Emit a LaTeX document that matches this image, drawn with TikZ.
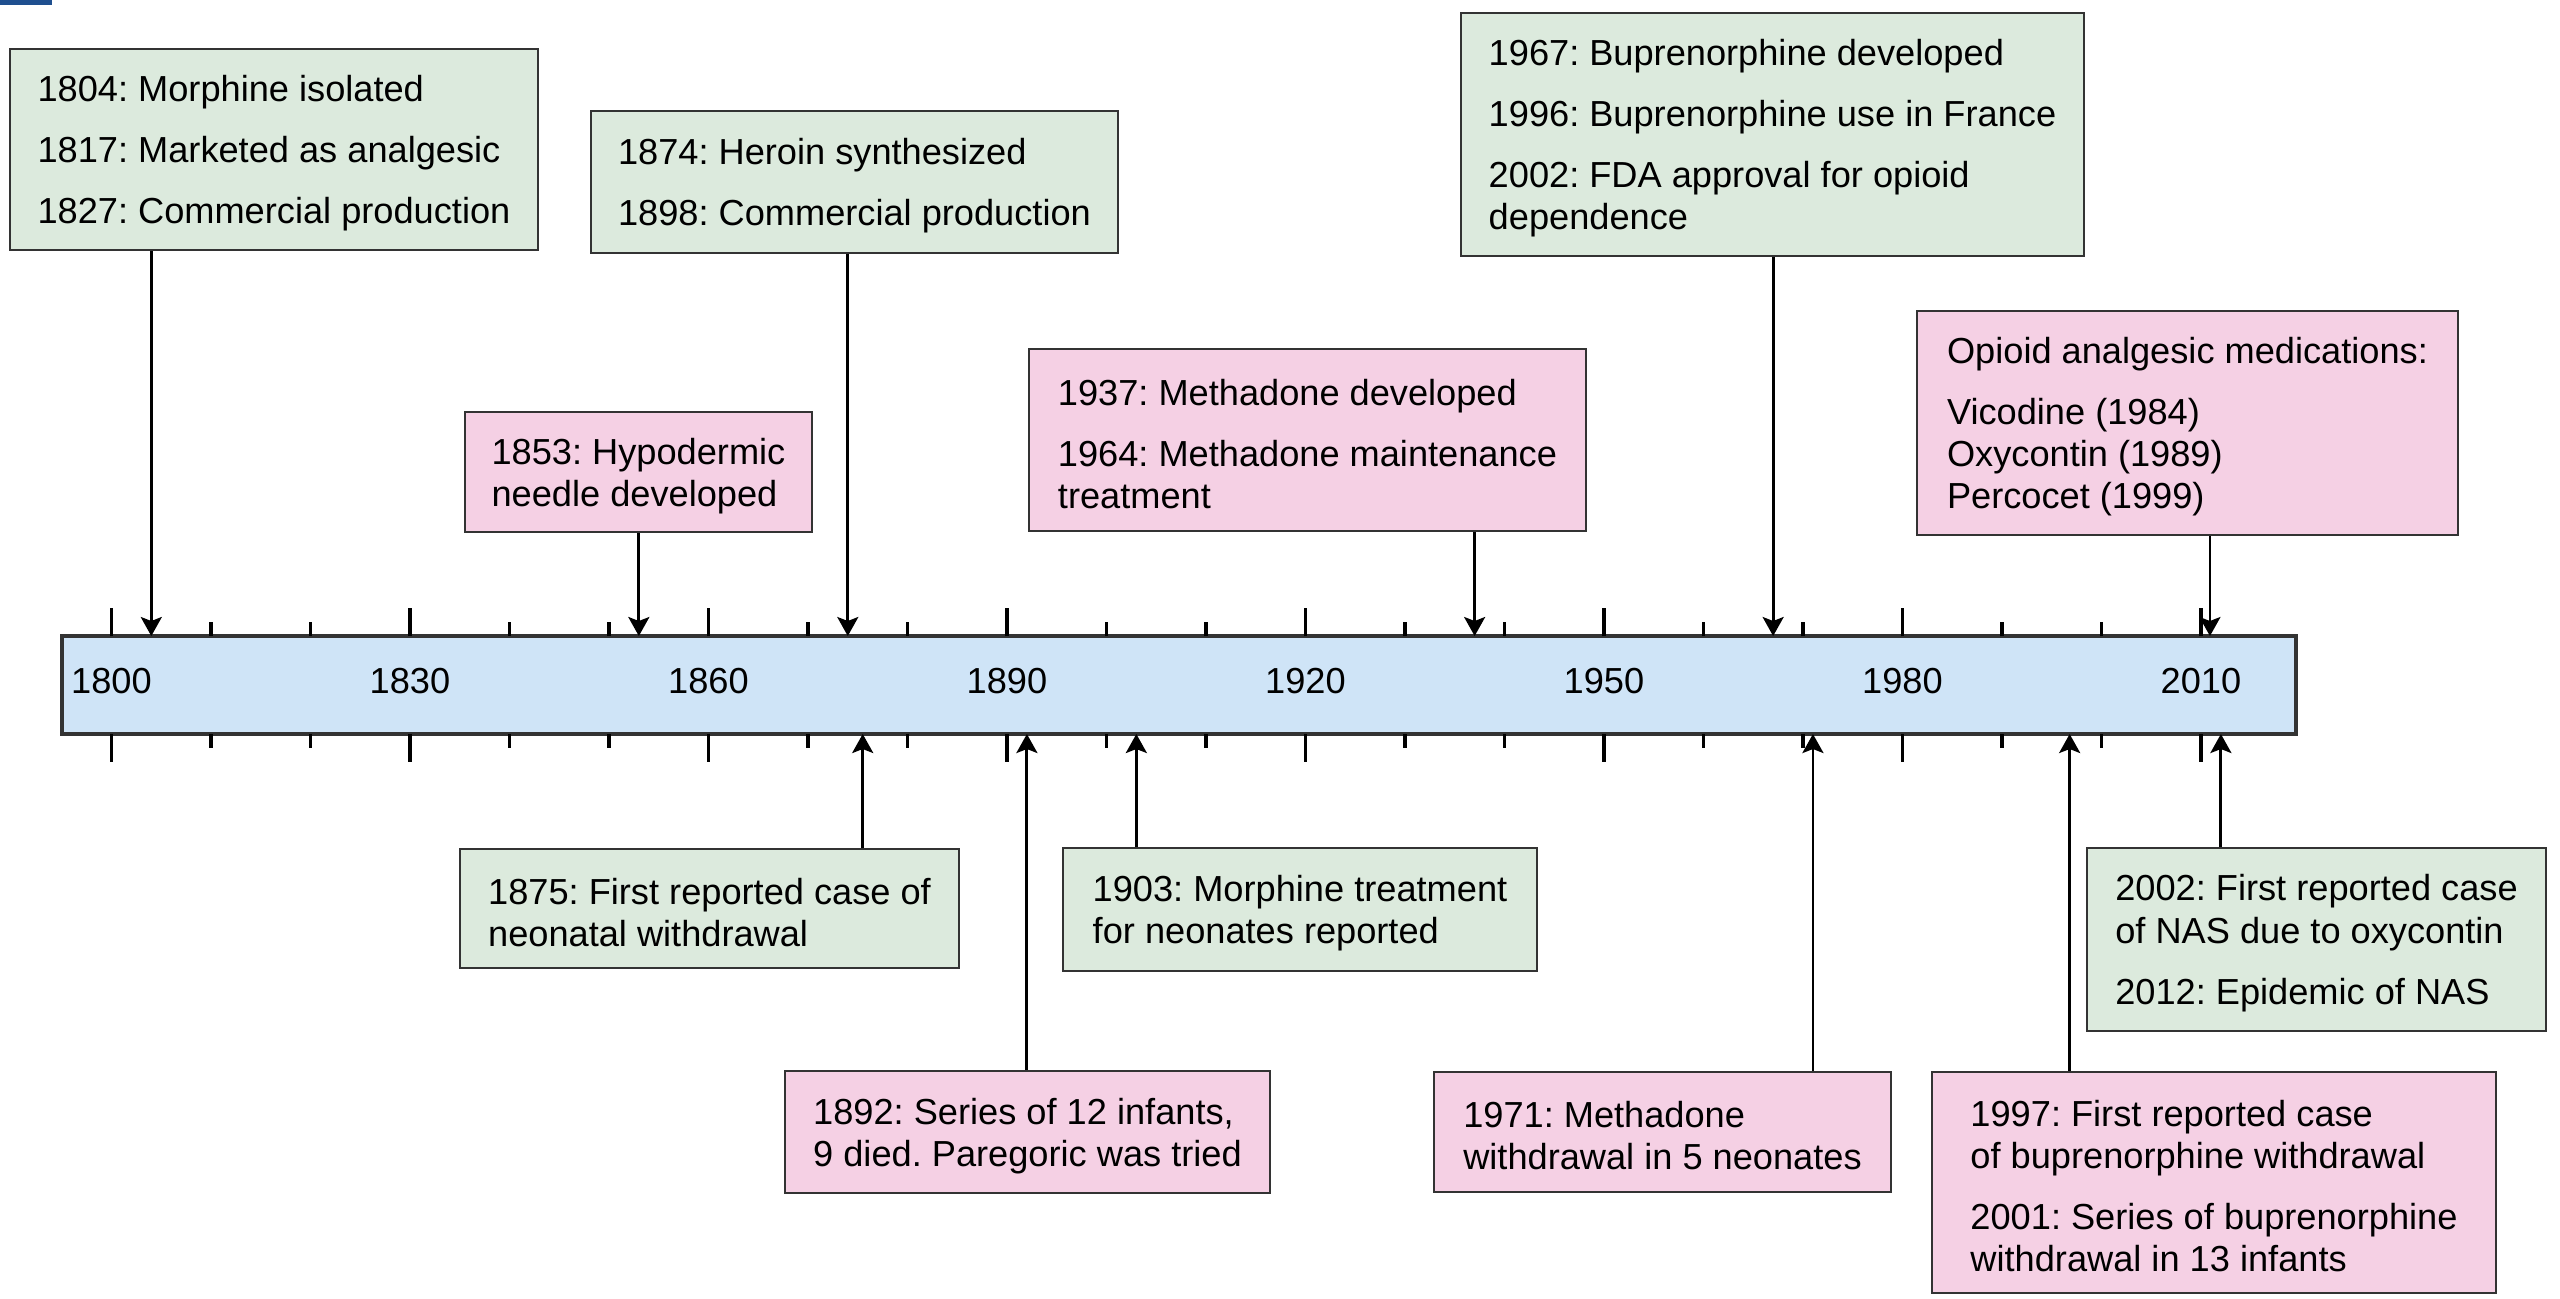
\documentclass[tikz,border=0pt]{standalone}
\usepackage{fontspec}
\setmainfont{Liberation Sans}
\usetikzlibrary{arrows.meta}
\frenchspacing

\definecolor{evgreen}{HTML}{DCEADD}
\definecolor{evpink}{HTML}{F5D0E4}
\definecolor{barblue}{HTML}{CFE4F7}
\definecolor{edgegray}{HTML}{333333}
\definecolor{cornerblue}{HTML}{1F4F8F}

% x position (mm) of a year on the time bar
\newcommand{\yx}[1]{11.15+(#1-1800)*0.995}
% a little room above the first line of a box
\newcommand{\tp}{\rule{0pt}{9.6pt}}

\begin{document}
\begin{tikzpicture}[x=1mm,y=-1mm,
  font=\fontsize{10.3}{12}\selectfont,
  box/.style={draw=edgegray, line width=0.8pt, inner xsep=2mm, inner ysep=1mm, align=left},
  greenbox/.style={box, fill=evgreen},
  pinkbox/.style={box, fill=evpink},
  pointer/.style={-{Stealth[length=1.9mm,width=2.1mm,inset=0.4mm]}, line width=0.8pt}]
  \useasboundingbox (0,0) rectangle (256,129.8);
  \fill[cornerblue] (0,0) rectangle (5.2,0.5);

  % time bar
  \node[draw=edgegray, line width=1pt, fill=barblue, minimum width=223.4mm, minimum height=9.8mm,
    inner sep=0pt] (bar) at (117.9,68.5) {};
  \foreach \y in {1800,1810,...,2010}
    \draw[line width=0.9pt] ({\yx{\y}},63.6) -- ++(0,-1.4) ({\yx{\y}},73.4) -- ++(0,1.4);
  \foreach \y in {1800,1830,...,2010} {
    \draw[line width=0.9pt] ({\yx{\y}},63.6) -- ++(0,-2.8) ({\yx{\y}},73.4) -- ++(0,2.8);
    \node[anchor=base] at ({\yx{\y}},69.3) {\y};
  }

  % events above the bar
  \node[greenbox, minimum width=52.8mm, minimum height=20.1mm] (morphine) at (27.4,14.95)
    {\tp 1804: Morphine isolated\\[5.4pt]1817: Marketed as analgesic\\[5.4pt]1827: Commercial production};
  \node[greenbox, minimum width=52.7mm, minimum height=14.2mm] (heroin) at (85.45,18.2)
    {\tp 1874: Heroin synthesized\\[5.4pt]1898: Commercial production};
  \node[pinkbox, minimum width=34.7mm, minimum height=12mm] (needle) at (63.85,47.2)
    {\tp 1853: Hypodermic\\needle developed};
  \node[pinkbox, minimum width=55.7mm, minimum height=18.2mm] (methadone) at (130.75,44)
    {\tp 1937: Methadone developed\\[5.4pt]1964: Methadone maintenance\\treatment};
  \node[greenbox, minimum width=62.3mm, minimum height=24.3mm] (bupre) at (177.25,13.45)
    {\tp 1967: Buprenorphine developed\\[5.4pt]1996: Buprenorphine use in France\\[5.4pt]2002: FDA approval for opioid\\dependence};
  \node[pinkbox, minimum width=54.1mm, minimum height=22.4mm] (analgesic) at (218.75,42.3)
    {\tp Opioid analgesic medications:\\[5.4pt]Vicodine (1984)\\Oxycontin (1989)\\Percocet (1999)};

  % events below the bar
  \node[greenbox, minimum width=49.9mm, minimum height=11.9mm] (neonatal) at (70.95,90.85)
    {\tp 1875: First reported case of\\neonatal withdrawal};
  \node[pinkbox, minimum width=48.5mm, minimum height=12.2mm] (paregoric) at (102.75,113.2)
    {\tp 1892: Series of 12 infants,\\9 died. Paregoric was tried};
  \node[greenbox, minimum width=47.4mm, minimum height=12.3mm] (treatment) at (130,90.95)
    {\tp 1903: Morphine treatment\\for neonates reported};
  \node[pinkbox, minimum width=45.7mm, minimum height=12mm] (withdrawal) at (166.25,113.2)
    {\tp 1971: Methadone\\withdrawal in 5 neonates};
  \node[pinkbox, minimum width=56.4mm, minimum height=22.1mm] (buprewd) at (221.4,118.25)
    {\tp 1997: First reported case\\of buprenorphine withdrawal\\[5.4pt]2001: Series of buprenorphine\\withdrawal in 13 infants};
  \node[greenbox, minimum width=45.9mm, minimum height=18.3mm] (nas) at (231.65,93.95)
    {\tp 2002: First reported case\\of NAS due to oxycontin\\[5.4pt]2012: Epidemic of NAS};

  % where the arrows meet the bar
  \coordinate (pmorphine) at ({\yx{1804}},63.6);
  \coordinate (pheroin) at ({\yx{1874}},63.6);
  \coordinate (pneedle) at ({\yx{1853}},63.6);
  \coordinate (pmethadone) at ({\yx{1937}},63.6);
  \coordinate (pbupre) at ({\yx{1967}},63.6);
  \coordinate (panalgesic) at ({\yx{2010.9}},63.6);
  \coordinate (pneonatal) at ({\yx{1875.5}},73.4);
  \coordinate (pparegoric) at ({\yx{1892}},73.4);
  \coordinate (ptreatment) at ({\yx{1903}},73.4);
  \coordinate (pwithdrawal) at ({\yx{1971}},73.4);
  \coordinate (pbuprewd) at ({\yx{1996.8}},73.4);
  \coordinate (pnas) at ({\yx{2012}},73.4);

  \foreach \n in {morphine,heroin,needle,methadone,bupre,analgesic}
    \draw[pointer] (\n.south -| p\n) -- (p\n);
  \foreach \n in {neonatal,paregoric,treatment,withdrawal,buprewd,nas}
    \draw[pointer] (\n.north -| p\n) -- (p\n);
\end{tikzpicture}
\end{document}
